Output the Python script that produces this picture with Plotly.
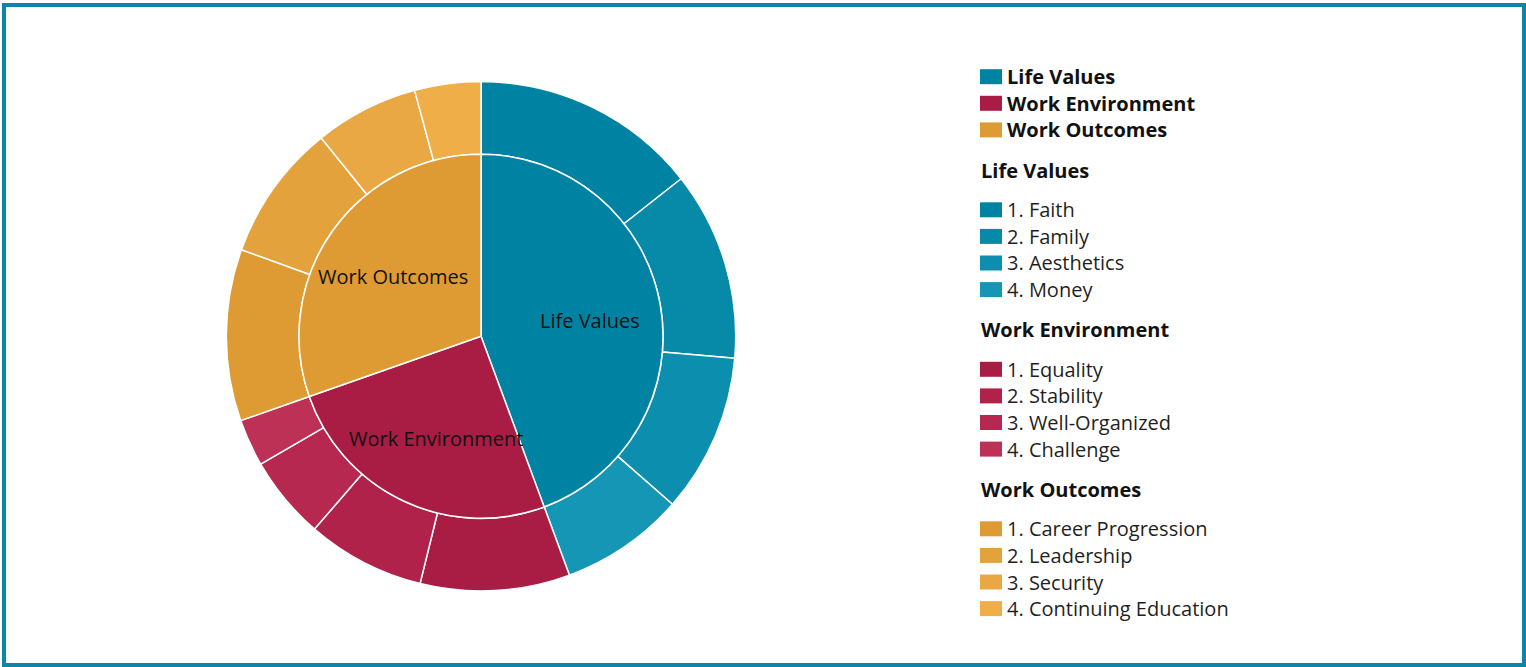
import math
import plotly.graph_objects as go

W, H = 1526, 667

# inner ring: the three value groups
groups = ["Life Values", "Work Environment", "Work Outcomes"]
group_values = [44.4, 25.3, 30.4]
group_colors = ["#0083a3", "#a91c44", "#de9b34"]

# outer ring: four values inside each group
life_labels = ["1. Faith", "2. Family", "3. Aesthetics", "4. Money"]
life_values = [14.4, 12.0, 10.1, 7.9]
life_colors = ["#0083a3", "#0789a8", "#0c8fae", "#1596b5"]

env_labels = ["1. Equality", "2. Stability", "3. Well-Organized", "4. Challenge"]
env_values = [9.5, 7.5, 5.3, 3.0]
env_colors = ["#a91c44", "#b02249", "#b6284f", "#be3157"]

out_labels = ["1. Career Progression", "2. Leadership", "3. Security", "4. Continuing Education"]
out_values = [10.9, 8.7, 6.6, 4.2]
out_colors = ["#de9b34", "#e4a23c", "#e9a843", "#f0ae48"]

FONT = "Open Sans"
FS = 20


def px_x(px):
    return px / W


def px_y(py):
    return 1 - py / H


cx, cy = 481, 336.3
r_out, r_in = 254.7, 182

fig = go.Figure()

fig.add_trace(go.Pie(
    labels=life_labels + env_labels + out_labels,
    values=life_values + env_values + out_values,
    marker=dict(colors=life_colors + env_colors + out_colors,
                line=dict(color="white", width=1.5)),
    hole=r_in / r_out,
    sort=False,
    direction="clockwise",
    textinfo="none",
    showlegend=False,
    domain=dict(x=[px_x(cx - r_out), px_x(cx + r_out)],
                y=[px_y(cy + r_out), px_y(cy - r_out)]),
))

fig.add_trace(go.Pie(
    labels=groups,
    values=group_values,
    marker=dict(colors=group_colors, line=dict(color="white", width=1.5)),
    sort=False,
    direction="clockwise",
    textinfo="none",
    showlegend=False,
    domain=dict(x=[px_x(cx - r_in), px_x(cx + r_in)],
                y=[px_y(cy + r_in), px_y(cy - r_in)]),
))

shapes = []
annotations = []

# group names inside the inner pie, at 60% radius on each slice's mid angle
total = sum(group_values)
start = 0.0
for g, v in zip(groups, group_values):
    mid = (start + v / 2) / total * 2 * math.pi
    start += v
    lx = cx + 0.6 * r_in * math.sin(mid) + 1.5
    ly = cy - 0.6 * r_in * math.cos(mid) + 3
    annotations.append(dict(xref="paper", yref="paper", x=px_x(lx), y=px_y(ly),
                            xanchor="center", yanchor="middle", showarrow=False,
                            text=g, font=dict(family=FONT, size=FS, color="#111111")))

# legend drawn by hand: swatch + label rows
row_h = 26.6


def add_row(y, text, color, bold=False):
    shapes.append(dict(type="rect", xref="paper", yref="paper",
                       x0=px_x(980), x1=px_x(1002),
                       y0=px_y(y + 7.5), y1=px_y(y - 7.5),
                       fillcolor=color, line=dict(width=0)))
    annotations.append(dict(xref="paper", yref="paper", x=px_x(1005), y=px_y(y),
                            xanchor="left", yanchor="middle", showarrow=False,
                            text="<b>%s</b>" % text if bold else text,
                            font=dict(family=FONT, size=FS,
                                      color="#111111" if bold else "#1f1f1f")))


for i, (g, c) in enumerate(zip(groups, group_colors)):
    add_row(76.7 + i * row_h, g, c, bold=True)

sections = [(life_labels, life_colors), (env_labels, env_colors), (out_labels, out_colors)]
for k, (labels, colors) in enumerate(sections):
    ty = 170 + k * 159.5
    annotations.append(dict(xref="paper", yref="paper", x=px_x(979), y=px_y(ty),
                            xanchor="left", yanchor="middle", showarrow=False,
                            text="<b>%s</b>" % groups[k],
                            font=dict(family=FONT, size=FS, color="#111111")))
    for i, (lab, col) in enumerate(zip(labels, colors)):
        add_row(ty + 39.8 + i * row_h, lab, col)

# outer frame
shapes.append(dict(type="rect", xref="paper", yref="paper",
                   x0=px_x(4), x1=px_x(1524), y0=px_y(665), y1=px_y(5),
                   line=dict(color="#0a86a8", width=4), fillcolor="rgba(0,0,0,0)"))

fig.update_layout(
    width=W,
    height=H,
    margin=dict(l=0, r=0, t=0, b=0),
    paper_bgcolor="white",
    plot_bgcolor="white",
    font=dict(family=FONT, size=FS, color="#111111"),
    shapes=shapes,
    annotations=annotations,
)

fig.write_html("out.html", config={"displayModeBar": False},
               post_script="document.body.style.margin = '0';")
